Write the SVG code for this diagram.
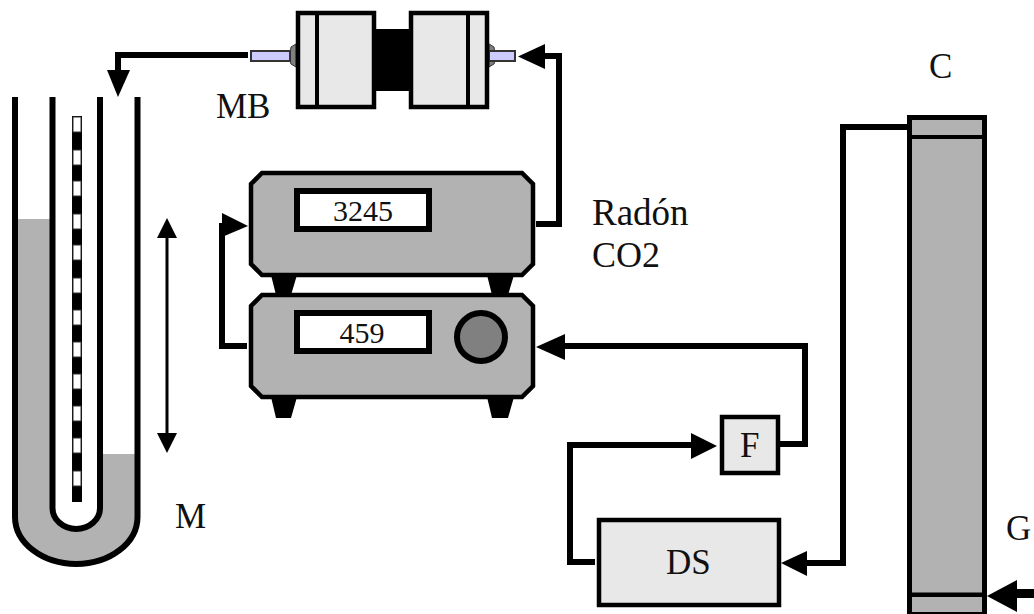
<svg xmlns="http://www.w3.org/2000/svg" width="1034" height="614" viewBox="0 0 1034 614">
<style>
text{font-family:"Liberation Serif","Times New Roman",serif;fill:#111;font-size:35px}
.d{font-size:30px}
.dev{fill:#b2b2b2;stroke:#000;stroke-width:4.5}
.lt{fill:#e8e8e8;stroke:#000;stroke-width:4.5}
.disp{fill:#fff;stroke:#000;stroke-width:6}
.ln{fill:none;stroke:#000;stroke-width:6}
.tube{fill:#ccccff;stroke:#333;stroke-width:2}
.knob{fill:#808080;stroke:#333;stroke-width:1}
</style>
<rect width="1034" height="614" fill="#fff"/>
<g id="manometer">
<path d="M15 219H137.500V517A61.250 47 0 0 1 15 517Z" fill="#b2b2b2"/>
<rect x="100" y="97" width="37.500" height="357" fill="#fff"/>
<rect x="15" y="97" width="37.500" height="122" fill="#fff"/>
<path d="M52.500 97V508A23.750 21 0 0 0 100 508V97Z" fill="#fff"/>
<path class="ln" d="M15 97V517A61.250 47 0 0 0 137.500 517V97"/>
<path class="ln" d="M52.500 97V508A23.750 21 0 0 0 100 508V97"/>
<rect x="72" y="116" width="10" height="386" fill="#000"/>
<g fill="#fff" stroke="#333" stroke-width="1">
<rect x="73" y="117" width="8" height="15"/><rect x="73" y="150" width="8" height="15"/><rect x="73" y="181" width="8" height="15"/><rect x="73" y="214" width="8" height="15"/><rect x="73" y="245" width="8" height="15"/><rect x="73" y="278" width="8" height="15"/><rect x="73" y="310" width="8" height="15"/><rect x="73" y="342" width="8" height="15"/><rect x="73" y="374" width="8" height="15"/><rect x="73" y="406" width="8" height="15"/><rect x="73" y="438" width="8" height="15"/><rect x="73" y="471" width="8" height="15"/>
</g>
<text x="175" y="528">M</text>
</g>
<g id="travel-arrow">
<path d="M165.500 236H168.500V435H165.500Z"/>
<path d="M167 218L177 238H157Z M167 453L157 433H177Z"/>
</g>
<g id="mb">
<rect x="376" y="29" width="33" height="62" fill="#000"/>
<path class="knob" d="M296 44L291 47L290 54V60L291 64L296 67Z"/>
<path class="knob" d="M489 44L494 47L495 54V60L494 64L489 67Z"/>
<rect class="tube" x="251" y="51" width="39" height="10"/>
<rect class="tube" x="489" y="51" width="26" height="10"/>
<rect class="lt" x="298" y="13" width="76" height="94"/>
<rect class="lt" x="411" y="13" width="76" height="94"/>
<path d="M315 13h4v94h-4Z M466 13h4v94h-4Z"/>
<text x="216" y="118">MB</text>
</g>
<g id="device-top">
<path d="M271 275H297L291 295H276Z M487 275H514L508 295H492Z"/>
<path class="dev" d="M262 173H522L533 184V264L522 275H262L251 264V184Z"/>
<rect class="disp" x="297" y="191" width="132" height="38"/>
<text class="d" x="363" y="221" text-anchor="middle">3245</text>
</g>
<g id="device-bottom">
<path d="M271 397H297L291 418H276Z M487 397H514L508 418H492Z"/>
<path class="dev" d="M262 295H522L533 306V386L522 397H262L251 386V306Z"/>
<rect class="disp" x="297" y="313" width="132" height="38"/>
<text class="d" x="362" y="343" text-anchor="middle">459</text>
<circle cx="481" cy="337" r="24" fill="#808080" stroke="#000" stroke-width="6"/>
</g>
<g id="f">
<rect class="lt" x="722" y="417" width="56" height="56"/>
<text x="740" y="457">F</text>
</g>
<g id="ds">
<rect class="lt" x="599" y="520" width="180" height="85"/>
<text x="666" y="574">DS</text>
</g>
<g id="column">
<rect x="909.500" y="117.500" width="75" height="497" fill="#b2b2b2" stroke="#000" stroke-width="5"/>
<path d="M909 135h76v4h-76Z M909 592.500h76v4.500h-76Z"/>
<text x="929" y="78">C</text>
<text x="1006" y="540">G</text>
</g>
<g id="connectors">
<path class="ln" d="M248 55H118V72"/>
<path d="M107 70H130L118 97Z"/>
<path class="ln" d="M536 224H559V56H543"/>
<path d="M545 44V69L518 56.500Z"/>
<path class="ln" d="M247 346H222V226H226"/>
<path d="M222 213L248 226L222 237Z"/>
<path class="ln" d="M780 444H805V346H563"/>
<path d="M565 334V360L536 347Z"/>
<path class="ln" d="M595 562H570V445H693"/>
<path d="M691 433L717 446L691 459Z"/>
<path class="ln" d="M908 127H843V563H805"/>
<path d="M807 551V576L781 563Z"/>
<path d="M1034 589V598H1015V589Z"/>
<path d="M1017 580V612L987 596Z"/>
</g>
<g id="labels">
<text x="592" y="225" style="font-size:37px">Radón</text>
<text x="592" y="267" style="font-size:36px">CO2</text>
</g>
</svg>
